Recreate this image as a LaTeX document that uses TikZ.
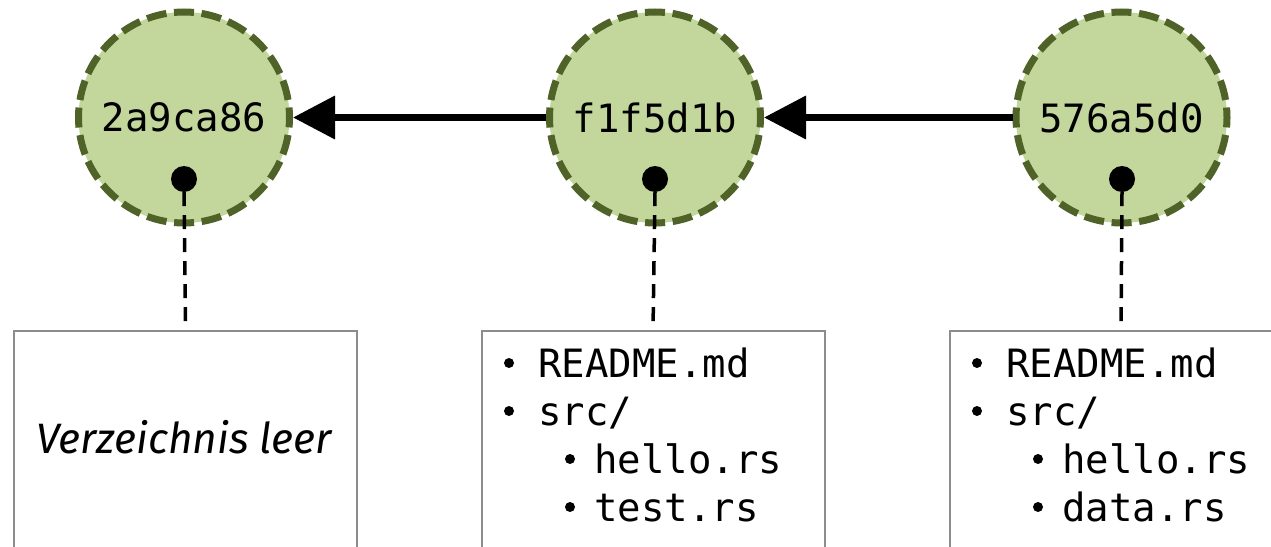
\documentclass[tikz,border=0pt]{standalone}
\usepackage{fontspec}
\setmonofont{DejaVu Sans Mono}
\setsansfont{Fira Sans}
\usetikzlibrary{arrows.meta}
\definecolor{commitfill}{HTML}{C3D69B}
\definecolor{commitline}{HTML}{4F6228}
\definecolor{boxline}{HTML}{8C8C8C}
\begin{document}
\begin{tikzpicture}[x=1pt,y=-1pt,
  commit/.style={circle, draw=commitline, fill=commitfill, line width=7pt,
    dash pattern=on 20pt off 7.625pt, dash phase=10pt,
    minimum size=211pt, inner sep=0pt,
    font=\ttfamily\fontsize{39}{47}\selectfont},
  treedot/.style={circle, fill=black, minimum size=26pt, inner sep=0pt},
  parent/.style={line width=7pt, -{Triangle[length=42pt,width=42pt]}},
  treelink/.style={line width=3.5pt, dash pattern=on 14pt off 9pt},
  treebox/.style={draw=boxline, line width=2pt, minimum width=343pt,
    minimum height=260pt, anchor=north, inner sep=0pt},
  entry/.style={anchor=base west, inner sep=0pt,
    font=\ttfamily\fontsize{39}{47}\selectfont},
  bullet/.style={circle, fill=black, minimum size=10pt, inner sep=0pt},
]
\useasboundingbox (0,0) rectangle (1271,546);
\clip (0,0) rectangle (1271,546);

% commits
\node[commit] (c1) at (184,117.5) {2a9ca86};
\node[commit] (c2) at (655,117.5) {f1f5d1b};
\node[commit] (c3) at (1121.5,117.5) {576a5d0};

% parent pointers
\draw[parent] (c2) -- (c1);
\draw[parent] (c3) -- (c2);

% tree pointers
\node[treedot] (d1) at (184,179) {};
\node[treedot] (d2) at (655,179) {};
\node[treedot] (d3) at (1122,179) {};

\node[treebox] (b1) at (185.5,330) {};
\node[treebox] (b2) at (653,330) {};
\node[treebox] (b3) at (1121,330) {};

\draw[treelink] (d1.south) -- (b1.north);
\draw[treelink] (d2.south) -- (b2.north);
\draw[treelink] (d3.south) -- (b3.north);

% empty tree
\node[anchor=base, inner sep=0pt, font=\sffamily\itshape\fontsize{42.5}{50}\selectfont]
  (empty) at (184,453) {Verzeichnis leer};

% tree of f1f5d1b
\node[bullet] (m1) at (509,363) {};
\node[entry] (t1) at (538,377) {README.md};
\node[bullet] (m2) at (509,411) {};
\node[entry] (t2) at (538,425) {src/};
\node[bullet] (m3) at (570,459) {};
\node[entry] (t3) at (594,473) {hello.rs};
\node[bullet] (m4) at (570,507) {};
\node[entry] (t4) at (594,521) {test.rs};

% tree of 576a5d0
\node[bullet] (n1) at (977,363) {};
\node[entry] (u1) at (1006,377) {README.md};
\node[bullet] (n2) at (977,411) {};
\node[entry] (u2) at (1006,425) {src/};
\node[bullet] (n3) at (1038,459) {};
\node[entry] (u3) at (1062,473) {hello.rs};
\node[bullet] (n4) at (1038,507) {};
\node[entry] (u4) at (1062,521) {data.rs};
\end{tikzpicture}
\end{document}
